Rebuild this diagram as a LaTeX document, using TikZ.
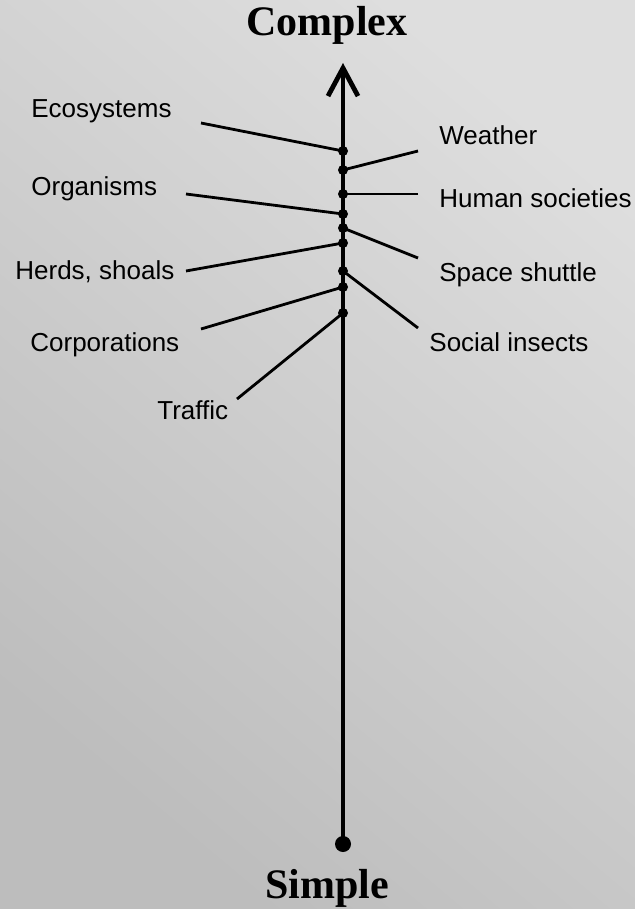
\documentclass[tikz,border=0pt]{standalone}
\usepackage{fontspec}
\setmainfont{Liberation Sans}
\newfontfamily\endfont{Liberation Serif}
\usetikzlibrary{arrows.meta}
\tikzset{
  lab/.style={anchor=base west,inner sep=0pt,font=\fontsize{13}{15}\selectfont},
  endlab/.style={anchor=base,inner sep=0pt,font=\endfont\bfseries\fontsize{21}{25}\selectfont},
  leg/.style={line width=1.4pt}
}
\begin{document}
\begin{tikzpicture}[x=.5pt,y=-.5pt,line width=2.4pt]
\shade[top color=black!13,bottom color=black!26,shading angle=-40] (0,0) rectangle (635,909);
\useasboundingbox (0,0) rectangle (635,909);
\coordinate (top) at (343,63); \coordinate (bot) at (343,844);
\coordinate (eco) at (343,151); \coordinate (wea) at (343,170);
\coordinate (hum) at (343,194); \coordinate (org) at (343,214);
\coordinate (spa) at (343,228); \coordinate (her) at (343,243);
\coordinate (soc) at (343,271); \coordinate (cor) at (343,287);
\coordinate (tra) at (343,313);
\coordinate (eco1) at (201,123); \coordinate (org1) at (186,194);
\coordinate (her1) at (186,271); \coordinate (cor1) at (201,329);
\coordinate (tra1) at (237,399); \coordinate (wea1) at (418,151);
\coordinate (hum1) at (418,194); \coordinate (spa1) at (418,258);
\coordinate (soc1) at (418,328);
\draw[-{Straight Barb[length=14pt,width=15pt]}] (bot)--(top);
\foreach \p in {eco,org,her,cor,tra,wea,hum,spa,soc}{\draw[leg] (\p1)--(\p);}
\foreach \p in {eco,wea,hum,org,spa,her,soc,cor,tra}{\fill (\p) circle (5);}
\fill (bot) circle (8);
\node[lab] (ecot) at (29,118) {Ecosystems}; \node[lab] (orgt) at (29,196) {Organisms};
\node[lab] (hert) at (13,279) {Herds, shoals}; \node[lab] (cort) at (28,351) {Corporations};
\node[lab] (trat) at (155,419) {Traffic}; \node[lab] (weat) at (437,145) {Weather};
\node[lab] (humt) at (437,208) {Human societies}; \node[lab] (spat) at (437,281) {Space shuttle};
\node[lab] (soct) at (427,351) {Social insects};
\node[endlab] (cplx) at (327,36) {Complex}; \node[endlab] (smpl) at (327,898) {Simple};
\end{tikzpicture}
\end{document}
